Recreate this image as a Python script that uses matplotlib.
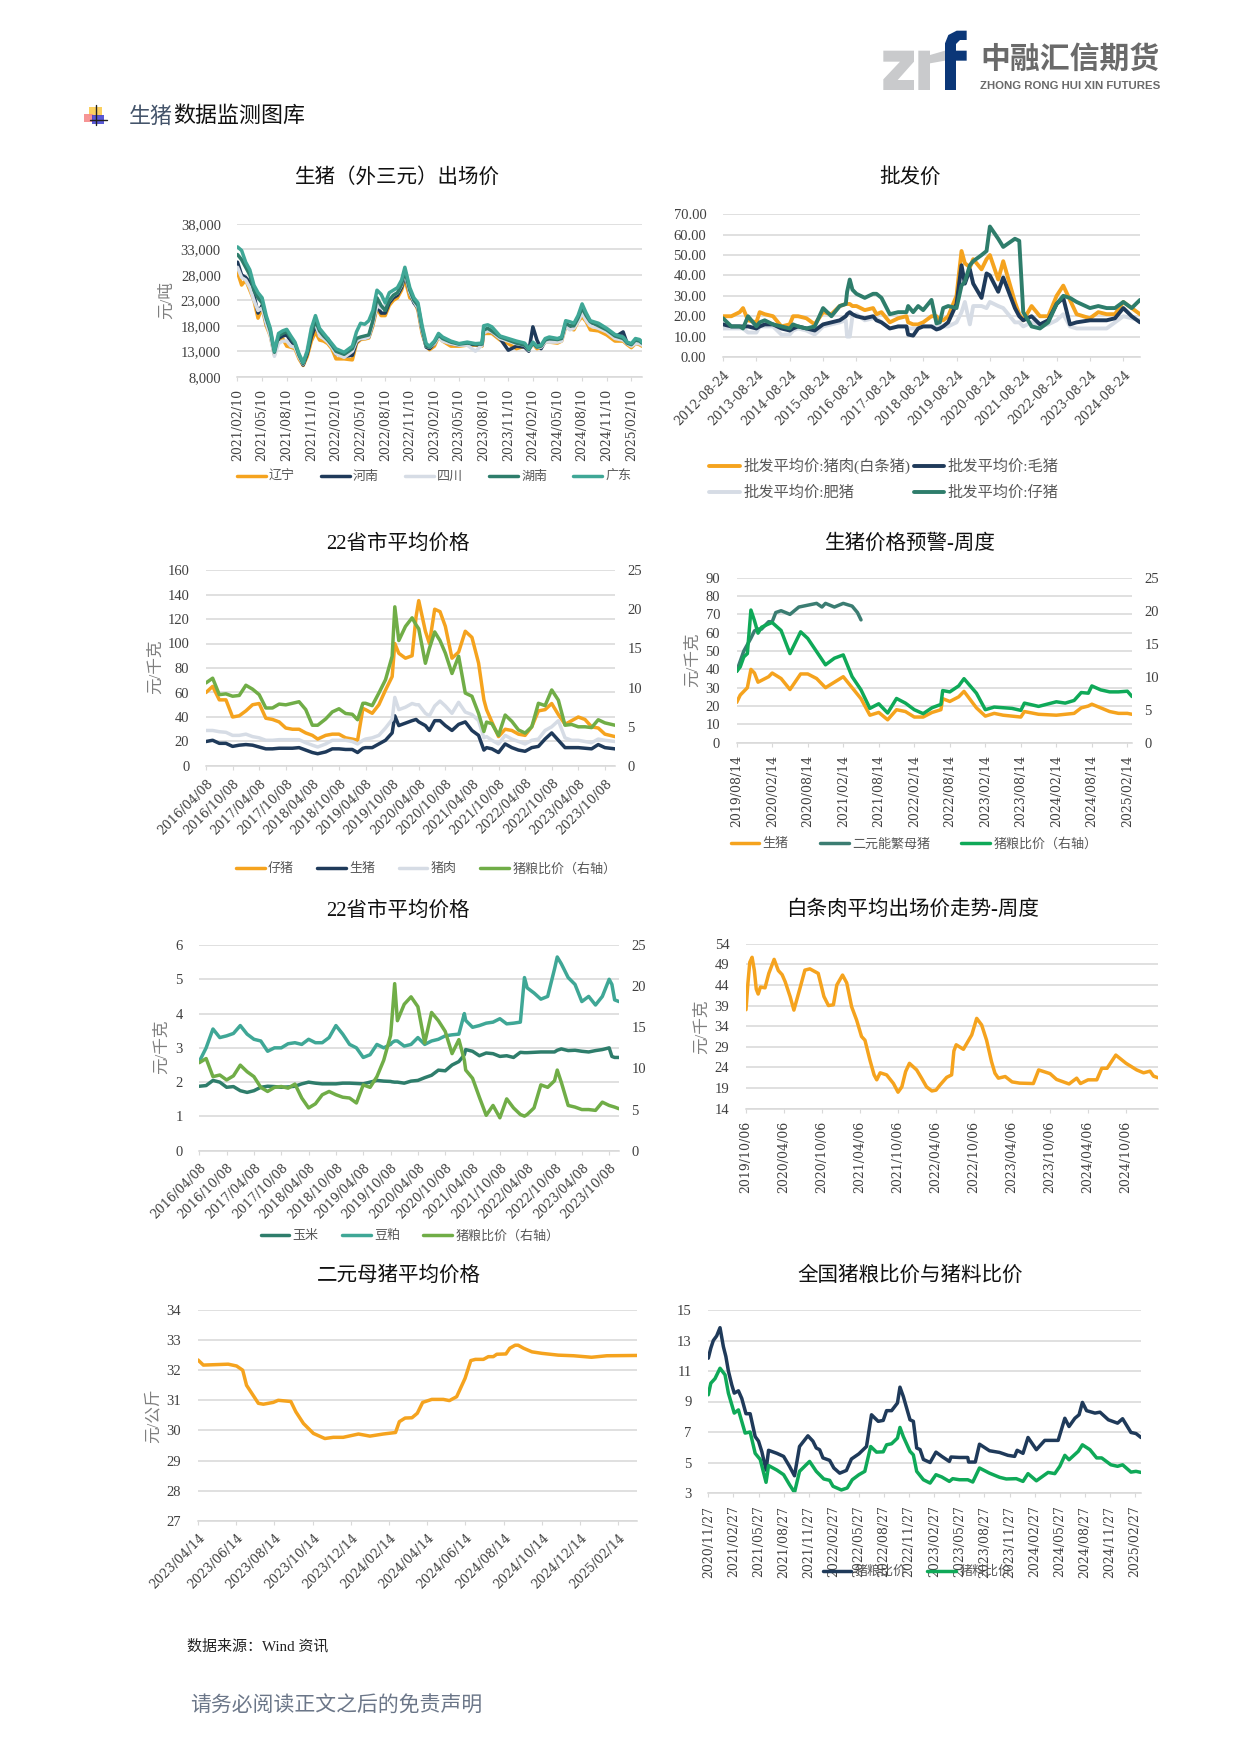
"""Pig price monitoring page: eight small charts on one A4 style sheet."""

import numpy as np
import matplotlib
matplotlib.use("Agg")
import matplotlib.pyplot as plt
from matplotlib.patches import Polygon, Rectangle
from matplotlib.transforms import ScaledTranslation

W, H = 1241, 1755
plt.rcParams["font.family"] = ["Liberation Serif", "Noto Sans CJK SC"]
plt.rcParams["lines.solid_capstyle"] = "round"
plt.rcParams["axes.unicode_minus"] = False

ORANGE = "#F5A31E"
NAVY = "#1F3A5A"
LIGHT = "#D6DCE5"
DTEAL = "#2E7D6B"
TEAL = "#3FA796"
GREEN = "#70AD47"
BGREEN = "#0FA958"
GRID = "#D9D9D9"
TICKC = "#404040"
DATE_FONT = ["DejaVu Serif", "Noto Sans CJK SC"]

# chart 1: months since 2021/02/10, prices in thousand yuan per ton
c1_x = [0, .5, 1, 1.5, 2, 2.5, 3, 3.5, 4, 4.5,
        5, 5.5, 6, 6.5, 7, 7.5, 8, 8.5, 9, 9.5,
        10, 10.5, 11, 11.5, 12, 13, 14, 14.5, 15, 15.5,
        16, 16.5, 17, 17.5, 18, 18.5, 19, 19.5, 20, 20.4,
        21, 21.5, 22, 22.5, 23, 23.4, 24, 24.5, 25, 26,
        27, 28, 29, 29.8, 30, 30.5, 31, 32, 33, 34,
        35, 35.5, 36, 36.5, 37, 37.5, 38, 39, 39.5, 40,
        40.5, 41, 41.5, 42, 42.5, 43, 44, 45, 46, 47,
        47.5, 48, 48.5, 49, 49.3]
c1_guangdong = [33.5, 32.8, 30.5, 29.0, 26.0, 24.5, 23.5, 20.0, 17.5, 13.0,
                16.5, 17.0, 17.3, 16.0, 14.8, 12.5, 10.8, 13.0, 17.5, 20.0,
                17.5, 16.5, 15.5, 14.5, 13.5, 12.8, 14.0, 16.8, 18.5, 18.3,
                19.0, 21.0, 25.0, 24.2, 22.5, 24.5, 25.0, 25.5, 27.0, 29.5,
                25.5, 23.5, 22.5, 18.0, 14.5, 14.0, 15.0, 16.5, 15.8, 15.0,
                14.5, 14.8, 14.5, 14.6, 18.0, 18.2, 17.8, 16.0, 15.5, 15.0,
                14.6, 13.5, 14.8, 14.0, 14.2, 15.5, 15.8, 15.5, 15.8, 19.0,
                18.8, 18.5, 20.0, 22.3, 20.5, 19.0, 18.5, 17.5, 16.3, 15.8,
                14.8, 14.5, 15.5, 15.3, 14.8]
c1_hunan = [32.0, 31.0, 29.5, 28.0, 25.0, 23.5, 22.5, 19.5, 17.0, 12.8,
            16.0, 16.5, 16.8, 15.6, 14.5, 12.2, 10.6, 12.8, 16.5, 19.0,
            17.0, 16.0, 15.2, 14.2, 13.0, 12.4, 13.5, 15.5, 15.8, 16.0,
            16.2, 19.0, 23.5, 22.0, 21.0, 23.0, 24.0, 24.5, 26.2, 28.8,
            25.0, 23.0, 22.0, 17.5, 14.0, 13.8, 14.8, 16.2, 15.5, 14.8,
            14.4, 14.6, 14.4, 14.4, 17.2, 17.5, 17.0, 15.8, 15.2, 14.6,
            14.2, 13.3, 14.6, 13.8, 14.0, 15.2, 15.5, 15.3, 15.5, 18.5,
            18.0, 18.0, 19.5, 21.5, 20.0, 18.8, 18.0, 17.2, 16.0, 15.5,
            14.6, 14.3, 15.2, 15.0, 14.6]
c1_henan = [30.5, 28.0, 27.5, 26.5, 24.0, 20.5, 22.0, 18.5, 16.5, 12.5,
            15.5, 16.0, 16.2, 15.0, 14.0, 12.0, 10.3, 12.5, 15.8, 18.0,
            16.2, 15.8, 15.5, 14.0, 12.5, 12.0, 12.2, 14.8, 15.5, 15.6,
            15.8, 18.5, 22.0, 20.5, 20.5, 22.5, 23.5, 24.0, 25.5, 28.0,
            24.5, 22.5, 21.5, 17.0, 13.8, 13.5, 14.5, 16.0, 15.2, 14.5,
            14.2, 14.4, 14.3, 14.2, 16.8, 17.0, 16.8, 15.5, 13.2, 14.0,
            13.8, 13.0, 17.8, 15.2, 13.5, 15.0, 15.3, 15.0, 15.3, 18.2,
            17.6, 17.8, 19.2, 20.8, 19.5, 18.5, 17.8, 17.0, 15.8, 16.8,
            14.5, 14.2, 14.8, 14.8, 14.4]
c1_liaoning = [28.5, 26.0, 27.0, 25.0, 23.0, 19.5, 21.5, 18.0, 16.0, 12.3,
               15.2, 15.5, 14.0, 13.8, 13.5, 11.5, 10.2, 12.0, 15.0, 16.8,
               15.2, 15.0, 14.5, 13.5, 11.5, 11.5, 11.3, 14.5, 15.3, 15.4,
               15.6, 18.0, 21.5, 20.0, 20.0, 22.0, 23.0, 23.5, 25.0, 27.2,
               23.5, 23.0, 21.0, 16.5, 14.0, 13.3, 14.0, 15.8, 15.0, 14.0,
               14.0, 14.2, 14.2, 14.0, 16.5, 16.5, 16.5, 15.2, 14.5, 13.5,
               14.0, 13.5, 14.5, 13.5, 13.8, 14.8, 14.8, 14.6, 15.0, 17.8,
               17.5, 17.2, 18.8, 19.8, 18.8, 17.2, 17.0, 16.2, 15.0, 15.0,
               14.3, 13.7, 14.5, 14.3, 14.0]
c1_sichuan = [29.5, 27.5, 27.0, 25.5, 23.0, 21.0, 21.5, 18.5, 16.0, 12.0,
              14.5, 15.0, 15.0, 14.0, 13.8, 11.8, 10.5, 13.5, 17.5, 18.5,
              16.0, 15.5, 14.8, 13.8, 12.5, 11.8, 13.0, 15.0, 15.5, 15.5,
              15.8, 18.5, 22.0, 21.5, 22.0, 23.0, 24.0, 24.5, 26.0, 28.5,
              24.5, 22.8, 21.5, 17.0, 14.0, 13.8, 14.5, 15.8, 15.0, 14.5,
              14.2, 14.2, 13.0, 14.2, 16.6, 17.0, 16.8, 15.5, 15.0, 14.5,
              14.2, 13.2, 14.5, 13.8, 13.8, 14.8, 14.8, 14.8, 15.0, 18.0,
              17.2, 17.5, 18.8, 20.5, 19.0, 18.0, 17.5, 16.8, 15.5, 15.2,
              14.5, 14.0, 14.5, 14.5, 14.2]
c1_ticks = ["2021/02/10", "2021/05/10", "2021/08/10", "2021/11/10", "2022/02/10", "2022/05/10",
            "2022/08/10", "2022/11/10", "2023/02/10", "2023/05/10", "2023/08/10", "2023/11/10",
            "2024/02/10", "2024/05/10", "2024/08/10", "2024/11/10", "2025/02/10"]

# chart 2: years since 2012-08-24
c2_x = [0, .25, .5, .6, .75, 1, 1.1, 1.25, 1.5, 1.75,
        2, 2.1, 2.25, 2.5, 2.75, 3, 3.25, 3.5, 3.68, 3.72,
        3.8, 3.88, 4, 4.25, 4.5, 4.6, 4.75, 5, 5.25, 5.5,
        5.55, 5.7, 5.85, 6, 6.25, 6.4, 6.5, 6.6, 6.75, 7,
        7.15, 7.25, 7.4, 7.5, 7.75, 7.9, 8, 8.25, 8.4, 8.75,
        8.88, 9, 9.25, 9.5, 9.75, 10, 10.2, 10.4, 10.6, 11,
        11.25, 11.5, 11.75, 12, 12.25, 12.5]
c2_pork = [20, 20, 22, 24, 18, 17, 22, 21, 20, 15,
           16, 20, 20, 19, 16, 22, 21, 25, 26, 26,
           26, 25, 25, 23, 24, 21, 22, 17, 19, 20,
           17, 16, 16, 17, 20, 20, 18, 18, 20, 30,
           52, 46, 44, 48, 43, 48, 50, 38, 47, 27,
           21, 18, 25, 20, 20, 30, 35, 28, 21, 19,
           22, 21, 21, 27, 24, 21]
c2_hog = [16, 15, 15, 15, 15, 14, 15, 16, 16, 14,
          13, 14, 15, 14, 13, 16, 17, 18, 20, 21,
          22, 21, 20, 19, 20, 18, 17, 14, 15, 15,
          11, 10.5, 14, 15, 15, 13.5, 14, 15, 17, 26,
          45, 36, 43, 36, 29, 41, 40, 32, 39, 24,
          20, 18, 20, 16, 18, 26, 29, 16, 17, 18,
          18, 18, 19, 24, 20, 17]
c2_fat = [14, 14, 14, 14, 12, 12, 15, 15, 15, 11,
          11, 13, 14, 13, 11, 15, 16, 17, 18, 10,
          10, 20, 21, 18, 19, 19, 17, 14, 15, 15,
          14, 14, 14, 15, 15, 15, 15, 15, 15, 17,
          22, 27, 16, 25, 25, 24, 27, 25, 24, 17,
          17, 15, 17, 15, 16, 18, 21, 15, 14, 14,
          14, 14, 17, 20, 19, 18]
c2_piglet = [19, 15, 15, 14, 20, 15, 17, 18, 16, 15,
             14, 16, 15, 14, 15, 24, 20, 25, 26, 32,
             38, 33, 31, 29, 31, 31, 29, 21, 22, 22,
             25, 22, 25, 23, 28, 16.5, 17, 24, 25, 24,
             35, 37, 45, 47, 50, 52, 64, 58, 54, 58,
             57, 22, 15, 14, 17, 26, 30, 29, 27, 24,
             25, 24, 24, 27, 24, 28]
c2_ticks = ["2012-08-24", "2013-08-24", "2014-08-24", "2015-08-24", "2016-08-24", "2017-08-24",
            "2018-08-24", "2019-08-24", "2020-08-24", "2021-08-24", "2022-08-24", "2023-08-24",
            "2024-08-24"]

# chart 3: half years since 2016/04/08
c3_x = [0, .25, .5, .75, 1, 1.25, 1.5, 1.75, 2, 2.25,
        2.5, 2.75, 3, 3.25, 3.5, 3.75, 4, 4.2, 4.5, 4.75,
        5, 5.25, 5.5, 5.7, 5.9, 6, 6.25, 6.5, 6.75, 7,
        7.1, 7.25, 7.5, 7.75, 7.9, 8, 8.25, 8.4, 8.6, 8.8,
        9, 9.25, 9.5, 9.75, 10, 10.25, 10.45, 10.55, 10.75, 11,
        11.25, 11.5, 11.75, 12, 12.25, 12.5, 12.75, 13, 13.25, 13.5,
        13.75, 14, 14.25, 14.5, 14.75, 15, 15.38]
c3_piglet = [60, 65, 54, 54, 40, 41, 45, 50, 51, 39,
             38, 36, 31, 30, 30, 27, 25, 22, 25, 26,
             26, 23, 22, 21, 47, 46, 43, 50, 62, 73,
             100, 92, 88, 90, 122, 135, 110, 100, 128, 126,
             114, 88, 93, 110, 105, 84, 54, 46, 36, 24,
             30, 29, 26, 25, 32, 45, 46, 51, 42, 34,
             37, 40, 38, 32, 31, 26, 24]
c3_hog = [20, 21, 18.5, 18.5, 16, 17, 17.5, 17, 15.5, 14,
          14, 14.5, 14.5, 14.5, 15, 13, 11, 10, 11.5, 14,
          14, 13.5, 13.5, 11, 14.5, 15, 15, 18, 21, 27,
          41, 33, 35, 37, 38, 36, 33, 29, 37, 37,
          33, 29, 34, 36, 29, 25, 13, 15, 14, 11,
          18, 15, 13, 12, 15, 16, 22, 27, 21, 15,
          15, 15, 14.5, 14, 17.5, 15, 14]
c3_pork = [29, 29, 28, 27.5, 25, 25, 26, 24, 23, 21,
           21, 21.5, 21.5, 21.5, 21.5, 19, 17, 15.5, 18, 21,
           21, 21, 20, 18, 21, 22, 23, 25, 31, 38,
           56, 46, 48, 51, 50, 50, 43, 41, 49, 53,
           49, 43, 52, 44, 42, 37, 23, 24, 21, 18,
           25, 22, 20, 18, 21, 22, 29, 32, 37, 23,
           21, 21, 20, 19, 22, 21, 20]
c3_ratio = [10.6, 11.2, 9.1, 9.2, 8.9, 9, 10.3, 9.8, 9.1, 7.4,
            7.4, 7.9, 7.8, 8, 8.2, 7.2, 5.2, 5.2, 6, 6.9,
            7.3, 6.7, 6.6, 5.9, 8, 8, 7.7, 9.3, 11, 14,
            20.3, 16, 17.8, 18.9, 18, 17.5, 13.1, 15, 17.1, 16,
            14.4, 11.8, 14, 9.3, 8.9, 6.7, 4.4, 5.6, 5.4, 3.9,
            6.5, 5.7, 4.6, 4.2, 5, 8, 7.7, 9.7, 8.4, 5.2,
            5.3, 5, 5, 4.9, 5.9, 5.5, 5.2]
half_year_ticks = ["2016/04/08", "2016/10/08", "2017/04/08", "2017/10/08", "2018/04/08", "2018/10/08",
                   "2019/04/08", "2019/10/08", "2020/04/08", "2020/10/08", "2021/04/08", "2021/10/08",
                   "2022/04/08", "2022/10/08", "2023/04/08", "2023/10/08"]

# chart 4: half years since 2019/08/14
c4_x = [0, .1, .2, .3, .4, .5, .6, .7, .9, 1,
        1.25, 1.5, 1.8, 2, 2.25, 2.5, 2.75, 3, 3.25, 3.5,
        3.75, 4, 4.25, 4.5, 4.75, 5, 5.25, 5.5, 5.75, 5.8,
        6, 6.25, 6.4, 6.75, 7, 7.25, 7.5, 7.75, 8, 8.1,
        8.5, 9, 9.25, 9.5, 9.7, 9.9, 10, 10.25, 10.5, 10.75,
        11, 11.13]
c4_hog = [22, 26, 28, 30, 40, 38, 33, 34, 36, 38,
          35, 29, 37.5, 37.5, 35, 30, 33, 36, 30, 24,
          15, 16.5, 12.5, 18, 17, 14, 14, 16.5, 18, 24,
          22.5, 25, 28, 19, 14.5, 16, 15, 14.5, 14, 17,
          15.5, 15, 15.5, 16, 19, 20, 21, 19, 17, 16,
          16, 15.5]
c4_ratio = [10.8, 11.5, 13, 13.5, 20.1, 18.5, 16.6, 17.5, 18, 18.2,
            17, 13.5, 16.8, 15.8, 13.8, 11.8, 12.8, 13.3, 10, 8,
            5.2, 5.9, 4.5, 6.7, 6, 5, 4.4, 5.3, 5.8, 7.9,
            7.7, 8.6, 9.7, 7.5, 5, 5.4, 5.3, 5.2, 4.9, 6,
            5.5, 6.2, 6, 6.4, 7.6, 7.5, 8.6, 8, 7.7, 7.7,
            7.8, 7]
c4_sow_x = [0, .2, .4, .5, .6, .7, .9, 1, 1.1, 1.25, 1.5, 1.75, 2, 2.25, 2.4, 2.5, 2.75, 3, 3.25, 3.4, 3.5]
c4_sow = [39, 50, 57, 61, 62, 62, 66, 66, 71, 72, 70, 74, 75, 76, 74, 76, 74, 76, 74.5, 71, 67]
c4_ticks = ["2019/08/14", "2020/02/14", "2020/08/14", "2021/02/14", "2021/08/14", "2022/02/14",
            "2022/08/14", "2023/02/14", "2023/08/14", "2024/02/14", "2024/08/14", "2025/02/14"]

# chart 5: half years since 2016/04/08
c5_x = [0, .25, .5, .75, 1, 1.25, 1.5, 1.75, 2, 2.25,
        2.5, 2.75, 3, 3.25, 3.5, 3.75, 4, 4.25, 4.5, 4.75,
        5, 5.25, 5.5, 5.75, 6, 6.25, 6.5, 6.75, 7, 7.05,
        7.15, 7.25, 7.5, 7.75, 8, 8.25, 8.5, 8.75, 9, 9.25,
        9.5, 9.7, 9.75, 10, 10.25, 10.5, 10.75, 11, 11.25, 11.5,
        11.75, 11.9, 12, 12.25, 12.5, 12.75, 13, 13.1, 13.25, 13.5,
        13.75, 14, 14.25, 14.5, 14.75, 15, 15.1, 15.2, 15.36]
c5_corn = [1.88, 1.9, 2.05, 2.0, 1.85, 1.87, 1.75, 1.7, 1.75, 1.85,
           1.88, 1.87, 1.85, 1.86, 1.88, 1.95, 2.0, 1.97, 1.95, 1.95,
           1.95, 1.97, 1.97, 1.96, 1.95, 2.0, 2.05, 2.03, 2.02, 2.01,
           2.0, 2.0, 1.97, 2.03, 2.05, 2.13, 2.2, 2.35, 2.33, 2.5,
           2.6, 2.8, 2.95, 2.9, 2.77, 2.85, 2.83, 2.75, 2.77, 2.72,
           2.87, 2.86, 2.86, 2.87, 2.88, 2.88, 2.88, 2.93, 2.97, 2.92,
           2.93, 2.9, 2.88, 2.92, 2.95, 3.0, 2.75, 2.72, 2.72]
c5_meal = [2.6, 3.0, 3.55, 3.3, 3.35, 3.42, 3.65, 3.4, 3.25, 3.2,
           2.9, 3.0, 3.0, 3.12, 3.15, 3.1, 3.25, 3.15, 3.15, 3.3,
           3.65, 3.4, 3.1, 3.0, 2.72, 2.8, 3.1, 3.0, 3.1, 3.15,
           3.2, 3.2, 3.05, 3.1, 3.3, 3.1, 3.2, 3.25, 3.35, 3.38,
           3.4, 4.0, 3.8, 3.6, 3.65, 3.72, 3.75, 3.85, 3.7, 3.72,
           3.75, 5.05, 4.75, 4.6, 4.42, 4.5, 5.3, 5.65, 5.45, 5.05,
           4.85, 4.35, 4.5, 4.25, 4.5, 5.0, 4.85, 4.4, 4.35]
c5_ratio = [10.7, 11.2, 9.0, 9.2, 8.6, 9.1, 10.4, 9.6, 9.0, 7.7,
            7.2, 7.7, 7.8, 7.6, 8.1, 6.4, 5.2, 5.7, 6.8, 7.2,
            6.8, 6.5, 6.4, 5.8, 8, 7.7, 9, 11, 14, 16,
            20.3, 15.8, 17.8, 18.7, 17.5, 13.1, 16.8, 15.8, 14.5, 11.8,
            13.5, 11, 9.8, 8.8, 6.5, 4.3, 5.5, 4.0, 6.3, 5.2,
            4.4, 4.2, 4.4, 5.2, 8, 7.7, 8.5, 9.8, 8.3, 5.5,
            5.3, 5, 5, 4.9, 5.9, 5.5, 5.4, 5.3, 5.1]

# chart 6: half years since 2019/10/06
c6_x = [0, .05, .1, .16, .22, .27, .32, .38, .5, .6,
        .74, .85, .95, 1.03, 1.16, 1.26, 1.42, 1.55, 1.68, 1.9,
        2.05, 2.17, 2.3, 2.39, 2.54, 2.65, 2.78, 2.91, 3.04, 3.13,
        3.26, 3.37, 3.44, 3.53, 3.7, 3.88, 4, 4.1, 4.2, 4.3,
        4.49, 4.62, 4.75, 4.89, 5, 5.1, 5.28, 5.41, 5.47, 5.53,
        5.72, 5.94, 6.07, 6.2, 6.33, 6.46, 6.55, 6.64, 6.82, 7,
        7.2, 7.56, 7.7, 8, 8.17, 8.5, 8.7, 8.8, 9, 9.23,
        9.36, 9.5, 9.73, 10, 10.28, 10.46, 10.63, 10.72, 10.84]
c6_price = [38, 44.4, 49.5, 50.7, 47.5, 43, 41.8, 43.5, 43.3, 46.8,
            50.2, 47.5, 46.5, 44.8, 41.2, 37.9, 43.2, 47.6, 47.9, 46.8,
            41.2, 39, 39.2, 44, 46.4, 44.5, 38.7, 35.5, 31.5, 30.6,
            25.8, 22.2, 21, 22.7, 22.2, 20.1, 18, 19.3, 23, 25,
            23.4, 21.4, 19.3, 18.3, 18.5, 19.7, 21.6, 22.2, 28, 29.5,
            28.4, 31.9, 35.9, 34.3, 30.6, 25.4, 22.6, 21.4, 21.8, 20.5,
            20.2, 20.1, 23.4, 22.5, 21.1, 20, 21.4, 20.1, 21, 21,
            23.8, 23.8, 27, 25, 23.4, 22.7, 23.1, 21.9, 21.5]
c6_ticks = ["2019/10/06", "2020/04/06", "2020/10/06", "2021/04/06", "2021/10/06", "2022/04/06",
            "2022/10/06", "2023/04/06", "2023/10/06", "2024/04/06", "2024/10/06"]

# chart 7: two month steps since 2023/04/14
c7_x = [0, .14, .79, 1.01, 1.17, 1.27, 1.58, 1.71, 1.97, 2.1,
        2.43, 2.56, 2.76, 3.02, 3.32, 3.54, 3.8, 4.2, 4.5, 4.85,
        5.17, 5.27, 5.42, 5.6, 5.74, 5.88, 6.12, 6.42, 6.58, 6.77,
        6.99, 7.14, 7.26, 7.47, 7.6, 7.73, 7.82, 8.06, 8.16, 8.3,
        8.38, 8.52, 8.74, 9, 9.43, 9.83, 10.3, 10.7, 11.49]
c7_price = [32.34, 32.17, 32.2, 32.14, 32.0, 31.5, 30.9, 30.87, 30.93, 31.0,
            30.96, 30.62, 30.23, 29.9, 29.73, 29.77, 29.77, 29.88, 29.81, 29.88,
            29.93, 30.29, 30.41, 30.42, 30.57, 30.93, 31.03, 31.03, 30.99, 31.12,
            31.73, 32.32, 32.36, 32.36, 32.45, 32.45, 32.53, 32.54, 32.73, 32.83,
            32.83, 32.73, 32.61, 32.56, 32.5, 32.48, 32.43, 32.48, 32.49]
c7_ticks = ["2023/04/14", "2023/06/14", "2023/08/14", "2023/10/14", "2023/12/14", "2024/02/14",
            "2024/04/14", "2024/06/14", "2024/08/14", "2024/10/14", "2024/12/14", "2025/02/14"]

# chart 8: months since 2020/11/27
c8_grain_x = [0, .3, .6, 1, 1.4, 1.8, 2.1, 2.4, 2.8, 3.1,
              3.6, 4, 4.5, 5, 5.6, 6, 6.4, 6.9, 7.2, 8.2,
              9, 9.7, 10.3, 10.9, 11.9, 12.5, 12.9, 13.3, 13.7, 14.5,
              15, 15.7, 16.5, 17.1, 18, 18.9, 19.5, 20.3, 20.9, 21.3,
              21.9, 22.6, 22.9, 23.3, 24.1, 24.5, 24.9, 25.3, 25.7, 26.5,
              27.2, 27.9, 28.8, 29, 30, 31, 31.1, 31.9, 32.4, 33.6,
              34.8, 35.8, 36.6, 36.9, 37.6, 38.2, 39.2, 40.2, 41.8, 42.6,
              43.1, 43.8, 44.3, 44.7, 45.2, 46.2, 46.8, 47.8, 48.9, 49.5,
              50.5, 51.1, 51.7]
c8_grain = [11.84, 12.5, 13, 13.3, 13.84, 12.6, 11.95, 11, 10.1, 9.55,
            9.7, 9.2, 8.2, 8.2, 6.7, 6.4, 5.7, 4.5, 5.8, 5.6,
            5.4, 4.75, 4.13, 6.05, 6.75, 6.4, 5.95, 5.84, 5.3, 5.14,
            4.64, 4.3, 4.48, 5.23, 5.57, 6.05, 8.13, 7.7, 7.76, 8.4,
            8.4, 8.9, 9.94, 9.33, 7.8, 7.7, 5.95, 5.85, 5.2, 5,
            5.68, 5.4, 5.07, 5.36, 5.33, 5.33, 5.03, 5.03, 6.2, 5.77,
            5.66, 5.47, 5.4, 5.8, 5.6, 6.64, 5.84, 6.45, 6.45, 7.9,
            7.36, 7.9, 8.13, 8.94, 8.4, 8.24, 8.3, 7.8, 7.58, 7.87,
            6.97, 6.9, 6.64]
c8_feed_x = [0, .3, .8, 1.4, 2, 2.4, 3.1, 3.6, 4.4, 5,
             5.6, 6.2, 6.9, 7.2, 8.2, 9, 9.7, 10.3, 10.9, 12.1,
             12.9, 13.8, 14.5, 14.9, 15.9, 16.6, 17.2, 18, 18.7, 19.4,
             20.1, 20.9, 21.3, 21.9, 22.6, 22.9, 23.3, 24.1, 24.5, 24.9,
             25.7, 26.5, 27.2, 27.9, 28.8, 29.2, 30, 31, 31.6, 32.4,
             33.6, 34.8, 35.6, 36.8, 37.6, 38.2, 39.2, 40.6, 41.4, 42,
             42.6, 43.1, 44.2, 44.7, 45.6, 46.4, 47, 48.1, 48.9, 49.5,
             50.5, 51.1, 51.7]
c8_feed = [9.44, 10.2, 10.5, 11.18, 10.75, 9.55, 8.24, 8.45, 6.93, 7,
           5.6, 5.2, 3.7, 4.8, 4.5, 4.2, 3.55, 3.04, 4.42, 5.07,
           4.42, 3.92, 3.83, 3.44, 3.2, 3.33, 3.87, 4.2, 4.42, 6.05,
           5.68, 5.7, 6.16, 6.23, 6.6, 7.3, 6.7, 5.73, 5.5, 4.42,
           3.87, 3.65, 4.2, 4.05, 3.76, 3.94, 3.87, 3.87, 3.72, 4.64,
           4.3, 4.03, 3.92, 3.94, 3.76, 4.27, 3.8, 4.35, 4.27, 4.75,
           5.47, 5.18, 5.73, 6.16, 5.84, 5.3, 5.3, 4.85, 4.75, 4.85,
           4.37, 4.42, 4.35]
c8_ticks = ["2020/11/27", "2021/02/27", "2021/05/27", "2021/08/27", "2021/11/27", "2022/02/27",
            "2022/05/27", "2022/08/27", "2022/11/27", "2023/02/27", "2023/05/27", "2023/08/27",
            "2023/11/27", "2024/02/27", "2024/05/27", "2024/08/27", "2024/11/27", "2025/02/27"]

fig = plt.figure(figsize=(W / 100, H / 100), dpi=100, facecolor="white")

page = fig.add_axes([0, 0, 1, 1])
page.set_xlim(0, W)
page.set_ylim(H, 0)
page.axis("off")


def style_right(ax):
    for s in ax.spines.values():
        s.set_visible(False)
    ax.patch.set_alpha(0)


def panel(box, ylim, yticks, ylabels, xticks, xlabels, xend, rot=90):
    x0, top, x1, bottom = box
    ax = fig.add_axes([x0 / W, 1 - bottom / H, (x1 - x0) / W, (bottom - top) / H])
    ax.set_xlim(0, xend)
    ax.set_ylim(*ylim)
    style_right(ax)
    ax.set_yticks(yticks, ylabels, fontsize=10.5, color=TICKC)
    ax.tick_params(axis="y", length=0, pad=12)
    ax.grid(axis="y", color=GRID, lw=1.15, zorder=0)
    ax.set_axisbelow(True)
    ax.spines["bottom"].set_visible(True)
    ax.spines["bottom"].set_color(GRID)
    ax.spines["bottom"].set_linewidth(1.15)
    ax.set_xticks(xticks)
    if rot == 90:
        ax.set_xticklabels(xlabels, rotation=90, fontsize=9, family=DATE_FONT, color=TICKC)
        ax.tick_params(axis="x", length=3, color=GRID, pad=6)
    else:
        ax.set_xticklabels(xlabels, rotation=rot, ha="right", va="center", rotation_mode="anchor",
                           fontsize=9, family=DATE_FONT, color=TICKC)
        ax.tick_params(axis="x", length=3, color=GRID, pad=8)
        shift = ScaledTranslation(0.05, 0, fig.dpi_scale_trans)
        for lab in ax.get_xticklabels():
            lab.set_transform(lab.get_transform() + shift)
    return ax


def right_axis(ax, ylim, yticks):
    ax2 = ax.twinx()
    ax2.set_ylim(*ylim)
    style_right(ax2)
    ax2.set_yticks(yticks, [str(v) for v in yticks], fontsize=10.5, color=TICKC)
    ax2.tick_params(axis="y", length=0, pad=9)
    return ax2


def draw(ax, x, y, color, label, lw=2.5):
    return ax.plot(x, y, color=color, lw=lw, label=label, solid_joinstyle="round")[0]


def legend(handles, cx, cy, ncol=None, size=9.4, cspace=1.4, handlelen=2.2, lspace=0.5):
    fig.legend(handles=handles, loc="center", bbox_to_anchor=(cx / W, 1 - cy / H),
               ncol=ncol or len(handles), frameon=False, fontsize=size, columnspacing=cspace,
               handlelength=handlelen, handletextpad=0.25, labelspacing=lspace, borderpad=0,
               labelcolor="#595959")


def title(text, cx, cy, size=14.8):
    page.text(cx, cy, text, ha="center", va="center", fontsize=size, color="#111111")


def ylabel(text, cx, cy):
    page.text(cx, cy, text, ha="center", va="center", rotation=90, fontsize=12, color="#7F7F7F")


def px(zx, zy):
    return (850 + zx / 3, 20 + zy / 3)


# header: bullet, heading and logo
page.add_patch(Rectangle((89, 107), 13, 9, color="#FBCB4E", alpha=0.9, lw=0))
page.add_patch(Rectangle((84, 114), 9, 8, color="#F58A8A", alpha=0.9, lw=0))
page.add_patch(Rectangle((92, 115), 12, 9, color="#3C3CD0", alpha=0.85, lw=0))
page.plot([95.7, 95.7], [105, 125], color="#222222", lw=1)
page.plot([90, 107], [120, 120], color="#222222", lw=1)
page.text(129, 117, "生猪", ha="left", va="center", fontsize=15.8, color="#44546A")
page.text(173, 117, "数据监测图库", ha="left", va="center", fontsize=15.8, color="#111111")

logo_z = [(100, 92), (192, 92), (192, 125), (143, 180), (192, 180), (192, 210), (100, 210),
          (100, 178), (150, 125), (100, 125)]
logo_r = [(205, 92), (240, 92), (240, 105), (285, 92), (285, 122), (240, 130), (240, 210), (205, 210)]
logo_f = [(285, 210), (285, 70), (295, 45), (320, 32), (350, 32), (350, 60), (330, 60), (318, 72),
          (318, 92), (350, 92), (350, 122), (318, 122), (318, 210)]
page.add_patch(Polygon([px(*p) for p in logo_z], color="#C9CACC", lw=0))
page.add_patch(Polygon([px(*p) for p in logo_r], color="#C9CACC", lw=0))
page.add_patch(Polygon([px(*p) for p in logo_f], color="#0B3778", lw=0))
page.text(1070, 59.5, "中融汇信期货", ha="center", va="center", fontsize=21.5, fontweight="bold", color="#6A6A6A")
page.text(1070, 85.5, "ZHONG RONG HUI XIN FUTURES", ha="center", va="center", fontsize=8.2,
          fontweight="bold", family="Liberation Sans", color="#6A6A6A")

# chart 1
title("生猪（外三元）出场价", 397, 178)
ylabel("元/吨", 167, 300)
ax = panel((237.5, 224, 642, 376.7), (8000, 38000), list(range(8000, 38001, 5000)),
           ["8,000", "13,000", "18,000", "23,000", "28,000", "33,000", "38,000"],
           list(range(0, 49, 3)), c1_ticks, 49.3)
h = [draw(ax, c1_x, np.array(c1_liaoning) * 1000, ORANGE, "辽宁"),
     draw(ax, c1_x, np.array(c1_henan) * 1000, NAVY, "河南"),
     draw(ax, c1_x, np.array(c1_sichuan) * 1000, LIGHT, "四川"),
     draw(ax, c1_x, np.array(c1_hunan) * 1000, DTEAL, "湖南"),
     draw(ax, c1_x, np.array(c1_guangdong) * 1000, TEAL, "广东")]
legend(h, 434, 477, cspace=2.0)

# chart 2
title("批发价", 910, 178)
ax = panel((723, 214.3, 1140, 357), (0, 70), list(range(0, 71, 10)),
           ["0.00", "10.00", "20.00", "30.00", "40.00", "50.00", "60.00", "70.00"],
           list(range(13)), c2_ticks, 12.5, rot=45)
h1 = draw(ax, c2_x, c2_pork, ORANGE, "批发平均价:猪肉(白条猪)", 2.8)
h3 = draw(ax, c2_x, c2_fat, LIGHT, "批发平均价:肥猪", 2.8)
h2 = draw(ax, c2_x, c2_hog, NAVY, "批发平均价:毛猪", 2.8)
h4 = draw(ax, c2_x, c2_piglet, DTEAL, "批发平均价:仔猪", 2.8)
legend([h1, h3, h2, h4], 884, 479, ncol=2, size=11, cspace=0.2, handlelen=2.0, lspace=0.75)

# chart 3
title("22省市平均价格", 398, 544)
ylabel("元/千克", 156, 667)
ax = panel((206, 570, 615, 766), (0, 160), list(range(0, 161, 20)), [str(v) for v in range(0, 161, 20)],
           list(range(16)), half_year_ticks, 15.38, rot=45)
h = [draw(ax, c3_x, c3_piglet, ORANGE, "仔猪"), draw(ax, c3_x, c3_hog, NAVY, "生猪"),
     draw(ax, c3_x, c3_pork, LIGHT, "猪肉")]
ax2 = right_axis(ax, (0, 25), list(range(0, 26, 5)))
h.append(draw(ax2, c3_x, c3_ratio, GREEN, "猪粮比价（右轴）"))
legend(h, 426, 869, cspace=1.8)

# chart 4
title("生猪价格预警-周度", 910, 544)
ylabel("元/千克", 693, 660)
ax = panel((736.7, 577.7, 1132, 742.7), (0, 90), list(range(0, 91, 10)), [str(v) for v in range(0, 91, 10)],
           list(range(12)), c4_ticks, 11.13)
h = [draw(ax, c4_x, c4_hog, ORANGE, "生猪"), draw(ax, c4_sow_x, c4_sow, "#3B7D72", "二元能繁母猪")]
ax2 = right_axis(ax, (0, 25), list(range(0, 26, 5)))
h.append(draw(ax2, c4_x, c4_ratio, BGREEN, "猪粮比价（右轴）"))
legend(h, 914, 844, cspace=2.4)

# chart 5
title("22省市平均价格", 398, 911)
ylabel("元/千克", 162, 1047)
ax = panel((199.3, 945, 619, 1150.7), (0, 6), list(range(7)), [str(v) for v in range(7)],
           list(range(16)), half_year_ticks, 15.36, rot=45)
h = [draw(ax, c5_x, c5_corn, DTEAL, "玉米"), draw(ax, c5_x, c5_meal, TEAL, "豆粕")]
ax2 = right_axis(ax, (0, 25), list(range(0, 26, 5)))
h.append(draw(ax2, c5_x, c5_ratio, GREEN, "猪粮比价（右轴）"))
legend(h, 410, 1236, cspace=1.8)

# chart 6
title("白条肉平均出场价走势-周度", 912, 910)
ylabel("元/千克", 702, 1027)
ax = panel((746, 943.7, 1158, 1108.7), (14, 54), list(range(14, 55, 5)), [str(v) for v in range(14, 55, 5)],
           list(range(11)), c6_ticks, 10.84)
draw(ax, c6_x, c6_price, ORANGE, "白条肉")

# chart 7
title("二元母猪平均价格", 399, 1276)
ylabel("元/公斤", 154, 1416)
ax = panel((198, 1310, 637, 1520.7), (27, 34), list(range(27, 35)), [str(v) for v in range(27, 35)],
           list(range(12)), c7_ticks, 11.49, rot=45)
draw(ax, c7_x, c7_price, ORANGE, "二元母猪")

# chart 8
title("全国猪粮比价与猪料比价", 910, 1276)
ax = panel((708.3, 1310, 1141, 1493), (3, 15), list(range(3, 16, 2)), [str(v) for v in range(3, 16, 2)],
           list(range(0, 52, 3)), c8_ticks, 51.7)
h = [draw(ax, c8_grain_x, c8_grain, NAVY, "猪粮比价"), draw(ax, c8_feed_x, c8_feed, BGREEN, "猪料比价")]
legend(h, 917, 1572, cspace=1.6)

# footer
page.text(187, 1646, "数据来源：Wind 资讯", ha="left", va="center", fontsize=10.8, color="#222222")
page.text(190, 1707, "请务必阅读正文之后的免责声明", ha="left", va="center", fontsize=15, color="#6B7688")

fig.savefig("out.png", dpi=100)
